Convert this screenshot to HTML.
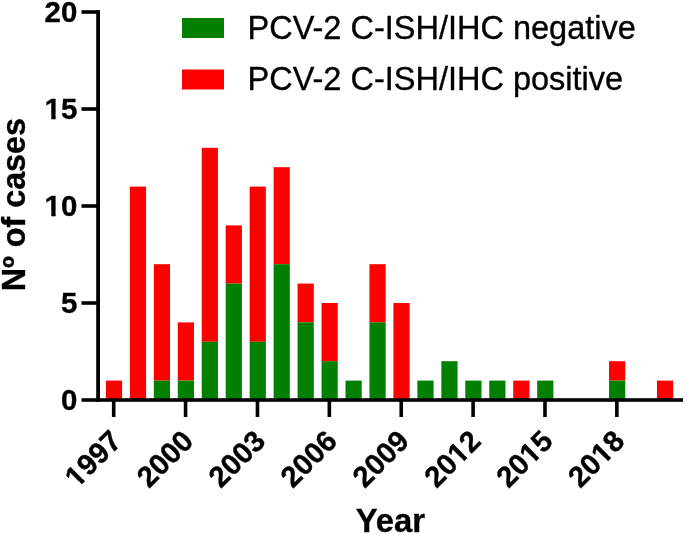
<!DOCTYPE html><html><head><meta charset="utf-8"><title>chart</title><style>html,body{margin:0;padding:0;background:#fff}svg{display:block}text{font-family:"Liberation Sans",Arial,sans-serif;fill:#000;stroke:#000;stroke-width:0.35px;stroke-linejoin:round}</style></head><body>
<svg width="685" height="535" viewBox="0 0 685 535">
<rect width="685" height="535" fill="#fff"/>
<rect x="105.9" y="380.60" width="16.2" height="19.40" fill="#ff0000"/>
<rect x="129.86" y="186.60" width="16.2" height="213.40" fill="#ff0000"/>
<rect x="153.82" y="264.20" width="16.2" height="116.40" fill="#ff0000"/>
<rect x="153.82" y="380.60" width="16.2" height="19.40" fill="#008000"/>
<rect x="177.78" y="322.40" width="16.2" height="58.20" fill="#ff0000"/>
<rect x="177.78" y="380.60" width="16.2" height="19.40" fill="#008000"/>
<rect x="201.74" y="147.80" width="16.2" height="194.00" fill="#ff0000"/>
<rect x="201.74" y="341.80" width="16.2" height="58.20" fill="#008000"/>
<rect x="225.7" y="225.40" width="16.2" height="58.20" fill="#ff0000"/>
<rect x="225.7" y="283.60" width="16.2" height="116.40" fill="#008000"/>
<rect x="249.66" y="186.60" width="16.2" height="155.20" fill="#ff0000"/>
<rect x="249.66" y="341.80" width="16.2" height="58.20" fill="#008000"/>
<rect x="273.62" y="167.20" width="16.2" height="97.00" fill="#ff0000"/>
<rect x="273.62" y="264.20" width="16.2" height="135.80" fill="#008000"/>
<rect x="297.58" y="283.60" width="16.2" height="38.80" fill="#ff0000"/>
<rect x="297.58" y="322.40" width="16.2" height="77.60" fill="#008000"/>
<rect x="321.54" y="303.00" width="16.2" height="58.20" fill="#ff0000"/>
<rect x="321.54" y="361.20" width="16.2" height="38.80" fill="#008000"/>
<rect x="345.5" y="380.60" width="16.2" height="19.40" fill="#008000"/>
<rect x="369.46" y="264.20" width="16.2" height="58.20" fill="#ff0000"/>
<rect x="369.46" y="322.40" width="16.2" height="77.60" fill="#008000"/>
<rect x="393.42" y="303.00" width="16.2" height="97.00" fill="#ff0000"/>
<rect x="417.38" y="380.60" width="16.2" height="19.40" fill="#008000"/>
<rect x="441.34" y="361.20" width="16.2" height="38.80" fill="#008000"/>
<rect x="465.3" y="380.60" width="16.2" height="19.40" fill="#008000"/>
<rect x="489.26" y="380.60" width="16.2" height="19.40" fill="#008000"/>
<rect x="513.22" y="380.60" width="16.2" height="19.40" fill="#ff0000"/>
<rect x="537.18" y="380.60" width="16.2" height="19.40" fill="#008000"/>
<rect x="609.06" y="361.20" width="16.2" height="19.40" fill="#ff0000"/>
<rect x="609.06" y="380.60" width="16.2" height="19.40" fill="#008000"/>
<rect x="656.98" y="380.60" width="16.2" height="19.40" fill="#ff0000"/>
<rect x="96.2" y="10.2" width="3.8" height="391.6" fill="#000"/>
<rect x="81.5" y="398.2" width="601.5" height="3.6" fill="#000"/>
<rect x="81.5" y="301.20" width="17" height="3.6" fill="#000"/>
<rect x="81.5" y="204.20" width="17" height="3.6" fill="#000"/>
<rect x="81.5" y="107.20" width="17" height="3.6" fill="#000"/>
<rect x="81.5" y="10.20" width="17" height="3.6" fill="#000"/>
<rect x="111.90" y="400.0" width="3.6" height="17" fill="#000"/>
<rect x="183.78" y="400.0" width="3.6" height="17" fill="#000"/>
<rect x="255.66" y="400.0" width="3.6" height="17" fill="#000"/>
<rect x="327.54" y="400.0" width="3.6" height="17" fill="#000"/>
<rect x="399.42" y="400.0" width="3.6" height="17" fill="#000"/>
<rect x="471.30" y="400.0" width="3.6" height="17" fill="#000"/>
<rect x="543.18" y="400.0" width="3.6" height="17" fill="#000"/>
<rect x="615.06" y="400.0" width="3.6" height="17" fill="#000"/>
<g transform="translate(77.3,410.10)"><text x="0" y="0" font-size="29.4" font-weight="bold" text-anchor="end">0</text></g>
<g transform="translate(77.3,313.10)"><text x="0" y="0" font-size="29.4" font-weight="bold" text-anchor="end">5</text></g>
<g transform="translate(77.3,216.10)"><text x="0" y="0" font-size="29.4" font-weight="bold" text-anchor="end">10</text><rect x="-32.05" y="-4.30" width="6.04" height="5.80" fill="#fff"/><rect x="-21.64" y="-4.30" width="5.47" height="5.80" fill="#fff"/></g>
<g transform="translate(77.3,119.10)"><text x="0" y="0" font-size="29.4" font-weight="bold" text-anchor="end">15</text><rect x="-32.05" y="-4.30" width="6.04" height="5.80" fill="#fff"/><rect x="-21.64" y="-4.30" width="5.47" height="5.80" fill="#fff"/></g>
<g transform="translate(77.3,22.10)"><text x="0" y="0" font-size="29.4" font-weight="bold" text-anchor="end">20</text></g>
<g transform="translate(123.20,442.8) rotate(-45)"><text x="0" y="0" font-size="29.3" font-weight="bold" text-anchor="end">1997</text><rect x="-64.54" y="-4.29" width="6.02" height="5.79" fill="#fff"/><rect x="-54.15" y="-4.29" width="5.45" height="5.79" fill="#fff"/></g>
<g transform="translate(195.08,442.8) rotate(-45)"><text x="0" y="0" font-size="29.3" font-weight="bold" text-anchor="end">2000</text></g>
<g transform="translate(266.96,442.8) rotate(-45)"><text x="0" y="0" font-size="29.3" font-weight="bold" text-anchor="end">2003</text></g>
<g transform="translate(338.84,442.8) rotate(-45)"><text x="0" y="0" font-size="29.3" font-weight="bold" text-anchor="end">2006</text></g>
<g transform="translate(410.72,442.8) rotate(-45)"><text x="0" y="0" font-size="29.3" font-weight="bold" text-anchor="end">2009</text></g>
<g transform="translate(482.60,442.8) rotate(-45)"><text x="0" y="0" font-size="29.3" font-weight="bold" text-anchor="end">2012</text><rect x="-31.94" y="-4.29" width="6.02" height="5.79" fill="#fff"/><rect x="-21.56" y="-4.29" width="5.45" height="5.79" fill="#fff"/></g>
<g transform="translate(554.48,442.8) rotate(-45)"><text x="0" y="0" font-size="29.3" font-weight="bold" text-anchor="end">2015</text><rect x="-31.94" y="-4.29" width="6.02" height="5.79" fill="#fff"/><rect x="-21.56" y="-4.29" width="5.45" height="5.79" fill="#fff"/></g>
<g transform="translate(626.36,442.8) rotate(-45)"><text x="0" y="0" font-size="29.3" font-weight="bold" text-anchor="end">2018</text><rect x="-31.94" y="-4.29" width="6.02" height="5.79" fill="#fff"/><rect x="-21.56" y="-4.29" width="5.45" height="5.79" fill="#fff"/></g>
<text x="390.4" y="532" font-size="32.8" font-weight="bold" text-anchor="middle">Year</text>
<text transform="translate(25.4,204.7) rotate(-90)" font-size="32.3" font-weight="bold" text-anchor="middle">Nº of cases</text>
<rect x="182" y="18" width="42" height="20" fill="#008000"/>
<rect x="182" y="69.5" width="42" height="20" fill="#ff0000"/>
<text x="247.5" y="38.5" font-size="32.5" >PCV-2 C-ISH/IHC negative</text>
<text x="247.5" y="90" font-size="32.5" >PCV-2 C-ISH/IHC positive</text>
</svg></body></html>
